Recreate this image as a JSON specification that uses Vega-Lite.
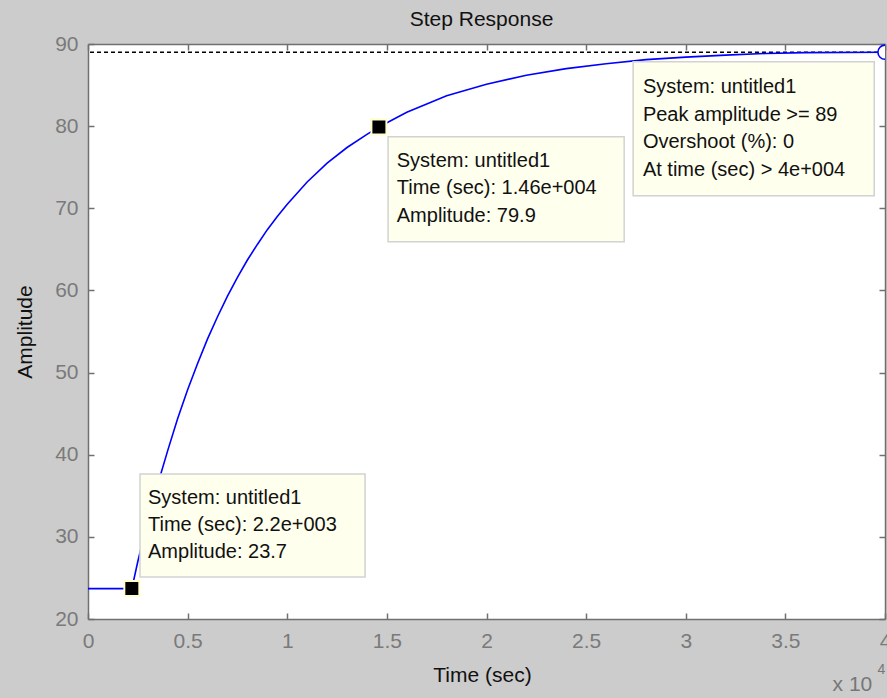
{
  "$schema": "https://vega.github.io/schema/vega-lite/v6.json",
  "width": 797,
  "height": 575,
  "autosize": {"type": "none"},
  "padding": {"left": 88, "top": 44, "right": 2, "bottom": 79},
  "background": "#cccccc",
  "datasets": {
    "curve": [
      {"t": 0, "amp": 23.7}, {"t": 2200, "amp": 23.7}, {"t": 2500, "amp": 27.0}, {"t": 3000, "amp": 32.0},
      {"t": 3500, "amp": 36.4}, {"t": 4000, "amp": 40.5}, {"t": 4500, "amp": 44.4}, {"t": 5000, "amp": 47.9},
      {"t": 5500, "amp": 51.1}, {"t": 6000, "amp": 54.1}, {"t": 6500, "amp": 56.8}, {"t": 7000, "amp": 59.3},
      {"t": 7500, "amp": 61.6}, {"t": 8000, "amp": 63.7}, {"t": 8500, "amp": 65.6}, {"t": 9000, "amp": 67.4},
      {"t": 9500, "amp": 69.0}, {"t": 10000, "amp": 70.5}, {"t": 11000, "amp": 73.2}, {"t": 12000, "amp": 75.5},
      {"t": 13000, "amp": 77.4}, {"t": 14000, "amp": 79.0}, {"t": 14600, "amp": 79.9}, {"t": 16000, "amp": 81.7},
      {"t": 18000, "amp": 83.7}, {"t": 20000, "amp": 85.1}, {"t": 22000, "amp": 86.2}, {"t": 24000, "amp": 87.0},
      {"t": 26000, "amp": 87.6}, {"t": 28000, "amp": 88.1}, {"t": 30000, "amp": 88.4}, {"t": 32000, "amp": 88.65},
      {"t": 34000, "amp": 88.85}, {"t": 36000, "amp": 88.95}, {"t": 40000, "amp": 89.0}
    ],
    "tips": [{"t": 2200, "amp": 23.7}, {"t": 14600, "amp": 79.9}],
    "peak": [{"t": 40000, "amp": 89.0}],
    "boxes": [
      {"t": 2610, "t2": 13905, "amp": 25.12, "amp2": 37.66},
      {"t": 15060, "t2": 26910, "amp": 65.92, "amp2": 78.71},
      {"t": 27360, "t2": 39460, "amp": 71.52, "amp2": 87.84}
    ],
    "texts": [
      {"t": 3012, "amp": 34.74, "label": "System: untitled1"},
      {"t": 3012, "amp": 31.45, "label": "Time (sec): 2.2e+003"},
      {"t": 3012, "amp": 28.16, "label": "Amplitude: 23.7"},
      {"t": 15497, "amp": 75.7, "label": "System: untitled1"},
      {"t": 15497, "amp": 72.46, "label": "Time (sec): 1.46e+004"},
      {"t": 15497, "amp": 69.12, "label": "Amplitude: 79.9"},
      {"t": 27850, "amp": 84.71, "label": "System: untitled1"},
      {"t": 27850, "amp": 81.39, "label": "Peak amplitude >= 89"},
      {"t": 27850, "amp": 78.06, "label": "Overshoot (%): 0"},
      {"t": 27850, "amp": 74.69, "label": "At time (sec) > 4e+004"}
    ],
    "heading": [{"t": 19750, "amp": 92.92, "label": "Step Response"}],
    "mult": [{"t": 39360, "amp": 11.96, "label": "x 10"}],
    "expo": [{"t": 39620, "amp": 13.79, "label": "4"}]
  },
  "layer": [
    {
      "layer": [
        {
          "data": {"name": "peak"},
          "mark": {"type": "rule", "color": "black", "strokeDash": [4, 3], "strokeWidth": 1.5},
          "encoding": {
            "y": {"field": "amp", "type": "quantitative"}
          }
        },
        {
          "data": {"name": "curve"},
          "mark": {"type": "line", "color": "#0000ff", "strokeWidth": 1.6},
          "encoding": {
            "x": {"field": "t", "type": "quantitative", "scale": {"domain": [0, 40000], "nice": false, "zero": false},
              "axis": {"orient": "bottom", "values": [0, 5000, 10000, 15000, 20000, 25000, 30000, 35000, 40000],
                "labelExpr": "datum.value / 10000", "title": "Time (sec)", "titleY": 56, "titleX": 394, "titleBaseline": "middle"}},
            "y": {"field": "amp", "type": "quantitative", "scale": {"domain": [20, 90], "nice": false, "zero": false},
              "axis": {"orient": "left", "values": [20, 30, 40, 50, 60, 70, 80, 90], "title": "Amplitude",
                "titleX": -63, "titleY": 287.5, "titleBaseline": "middle", "titleAngle": 270}}
          }
        },
        {
          "data": {"name": "boxes"},
          "mark": {"type": "rect", "fill": "#ffffee", "stroke": "#d2d2d2", "strokeWidth": 1.5},
          "encoding": {
            "x": {"field": "t", "type": "quantitative"},
            "x2": {"field": "t2"},
            "y": {"field": "amp", "type": "quantitative"},
            "y2": {"field": "amp2"}
          }
        },
        {
          "data": {"name": "texts"},
          "mark": {"type": "text", "align": "left", "baseline": "middle", "fontSize": 20, "color": "#111111", "font": "Liberation Sans"},
          "encoding": {
            "x": {"field": "t", "type": "quantitative"},
            "y": {"field": "amp", "type": "quantitative"},
            "text": {"field": "label"}
          }
        },
        {
          "data": {"name": "tips"},
          "mark": {"type": "point", "shape": "square", "filled": true, "fill": "black", "stroke": "#ffffcc", "strokeWidth": 2, "size": 225, "opacity": 1},
          "encoding": {
            "x": {"field": "t", "type": "quantitative"},
            "y": {"field": "amp", "type": "quantitative"}
          }
        },
        {
          "data": {"name": "peak"},
          "mark": {"type": "point", "shape": "circle", "filled": true, "fill": "white", "stroke": "#0000ff", "strokeWidth": 1.6, "size": 200, "opacity": 1, "clip": true},
          "encoding": {
            "x": {"field": "t", "type": "quantitative"},
            "y": {"field": "amp", "type": "quantitative"}
          }
        },
        {
          "data": {"name": "heading"},
          "mark": {"type": "text", "align": "center", "baseline": "middle", "fontSize": 21, "color": "#111111", "font": "Liberation Sans"},
          "encoding": {
            "x": {"field": "t", "type": "quantitative"},
            "y": {"field": "amp", "type": "quantitative"},
            "text": {"field": "label"}
          }
        },
        {
          "data": {"name": "mult"},
          "mark": {"type": "text", "align": "right", "baseline": "middle", "fontSize": 21, "color": "#777777", "font": "Liberation Sans"},
          "encoding": {
            "x": {"field": "t", "type": "quantitative"},
            "y": {"field": "amp", "type": "quantitative"},
            "text": {"field": "label"}
          }
        },
        {
          "data": {"name": "expo"},
          "mark": {"type": "text", "align": "left", "baseline": "middle", "fontSize": 14, "color": "#777777", "font": "Liberation Sans"},
          "encoding": {
            "x": {"field": "t", "type": "quantitative"},
            "y": {"field": "amp", "type": "quantitative"},
            "text": {"field": "label"}
          }
        }
      ]
    },
    {
      "data": {"name": "peak"},
      "mark": {"type": "point", "opacity": 0},
      "encoding": {
        "x": {"field": "t", "type": "quantitative",
          "axis": {"orient": "top", "labels": false, "title": null, "ticks": true, "tickSize": -6, "values": [0, 5000, 10000, 15000, 20000, 25000, 30000, 35000, 40000]}},
        "y": {"field": "amp", "type": "quantitative",
          "axis": {"orient": "right", "labels": false, "title": null, "ticks": true, "tickSize": -6, "values": [20, 30, 40, 50, 60, 70, 80, 90]}}
      }
    }
  ],
  "resolve": {"axis": {"x": "independent", "y": "independent"}},
  "config": {
    "font": "Liberation Sans",
    "view": {"fill": "white", "stroke": null},
    "axis": {
      "grid": false,
      "domainColor": "#707070",
      "domainWidth": 1.5,
      "tickColor": "#707070",
      "tickWidth": 1.5,
      "tickSize": -6,
      "labelFontSize": 21,
      "labelColor": "#7a7a7a",
      "labelFont": "Liberation Sans",
      "labelOverlap": false,
      "labelFlush": false,
      "titleFontSize": 21,
      "titleFontWeight": "normal",
      "titleColor": "#111111",
      "titleFont": "Liberation Sans"
    },
    "axisBottom": {"labelPadding": 17},
    "axisLeft": {"labelPadding": 16}
  }
}
